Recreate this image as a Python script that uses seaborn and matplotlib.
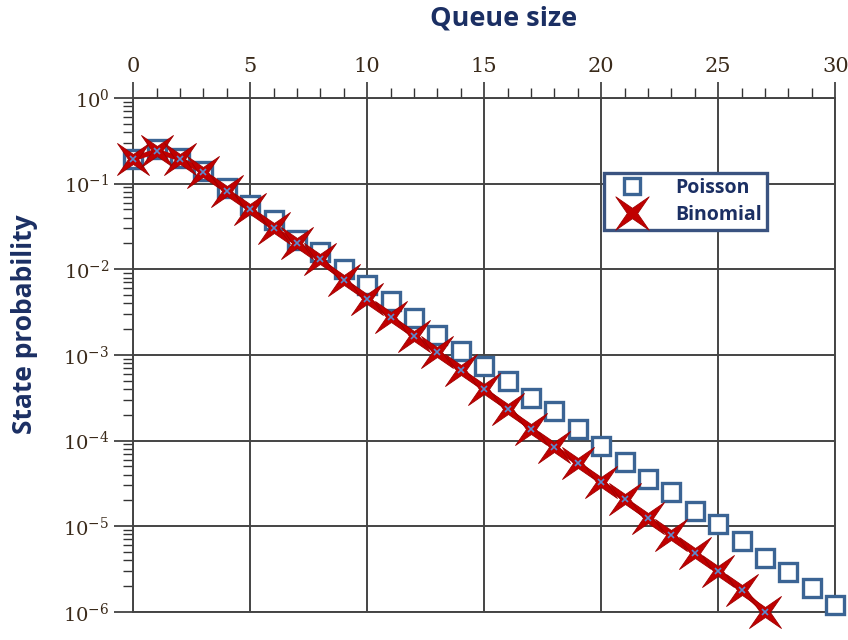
import numpy as np
import matplotlib
matplotlib.use("Agg")
import matplotlib.pyplot as plt
from matplotlib.path import Path
from matplotlib.lines import Line2D
from matplotlib.ticker import LogLocator, MultipleLocator, LogFormatterSciNotation
import seaborn as sns

# values
queue_size = list(range(31))
poisson = [0.194, 0.252, 0.20, 0.141, 0.088, 0.056, 0.0376, 0.022, 0.0158, 0.010,
           0.0065, 0.0043, 0.0027, 0.0017, 0.00112, 0.00075, 0.00049, 0.00031,
           0.00022, 0.000137, 8.7e-5, 5.6e-5, 3.6e-5, 2.5e-5, 1.5e-5, 1.07e-5,
           6.7e-6, 4.3e-6, 2.9e-6, 1.9e-6, 1.2e-6]
binomial_x = list(range(28))
binomial = [0.194, 0.24, 0.194, 0.137, 0.081, 0.050, 0.030, 0.020, 0.013, 0.0075,
            0.0045, 0.0028, 0.00165, 0.00108, 0.00066, 0.0004, 0.000234, 0.000137,
            8.3e-5, 5.5e-5, 3.3e-5, 2.05e-5, 1.23e-5, 7.9e-6, 4.8e-6, 3.0e-6,
            1.8e-6, 1.0e-6]

navy = "#1B2F63"
sq_color = "#3B6494"
red = "#C00000"


def star_marker(inner=0.22):
    # four pointed star with its points on the diagonals
    verts = []
    for k in range(8):
        ang = np.pi / 4 + k * np.pi / 4
        r = 1.0 if k % 2 == 0 else inner
        verts.append((r * np.cos(ang), r * np.sin(ang)))
    verts.append(verts[0])
    codes = [Path.MOVETO] + [Path.LINETO] * 7 + [Path.CLOSEPOLY]
    return Path(verts, codes)


star = star_marker()

sns.set_style("white")
plt.rcParams["font.family"] = ["DejaVu Serif"]
plt.rcParams["mathtext.fontset"] = "dejavuserif"

fig = plt.figure(figsize=(8.48, 6.4), dpi=100)
ax = fig.add_axes([0.157, 0.044, 0.828, 0.803])

sns.lineplot(x=queue_size, y=poisson, ax=ax, linestyle="", marker="s",
             markersize=12.5, markerfacecolor="white", markeredgecolor=sq_color,
             markeredgewidth=2.4, errorbar=None, zorder=3, clip_on=False)
sns.lineplot(x=binomial_x, y=binomial, ax=ax, color=red, linewidth=3.5,
             marker=star, markersize=23, markerfacecolor=red,
             markeredgecolor="#A00000", markeredgewidth=0.6,
             errorbar=None, zorder=4, clip_on=False)
sns.lineplot(x=binomial_x, y=binomial, ax=ax, linestyle="", marker="x",
             markersize=4, markeredgecolor="#5B8BD0", markeredgewidth=1.2,
             errorbar=None, zorder=5, clip_on=False)

ax.set_yscale("log")
ax.set_xlim(0, 30)
ax.set_ylim(1e-6, 1)

ax.xaxis.tick_top()
ax.xaxis.set_label_position("top")
ax.xaxis.set_major_locator(MultipleLocator(5))
ax.xaxis.set_minor_locator(MultipleLocator(1))
ax.yaxis.set_major_locator(LogLocator(base=10, numticks=10))
ax.yaxis.set_minor_locator(LogLocator(base=10, subs=np.arange(2, 10), numticks=20))
ax.yaxis.set_major_formatter(LogFormatterSciNotation())

ax.tick_params(axis="x", which="major", direction="out", length=11.5, width=1.2,
               labelsize=15, colors="#333333", pad=4, top=True, bottom=False)
ax.tick_params(axis="x", which="minor", direction="out", length=7, width=1.0,
               top=True, bottom=False, colors="#333333")
ax.tick_params(axis="y", which="major", direction="out", length=14, width=1.2,
               labelsize=14, colors="#333333", pad=3, left=True)
ax.tick_params(axis="y", which="minor", direction="out", length=7, width=1.0,
               colors="#333333", left=True)
ax.tick_params(labelcolor="#3a2a1a")

ax.grid(True, which="major", color="#444444", linewidth=1.4)
for side in ax.spines.values():
    side.set_color("#444444")
    side.set_linewidth(1.4)

ax.set_xlabel("Queue size", fontsize=19.5, fontweight="bold", color=navy,
              family=["Open Sans", "DejaVu Sans"])
ax.set_ylabel("State probability", fontsize=19, fontweight="bold", color=navy,
              family=["Open Sans", "DejaVu Sans"])
ax.xaxis.set_label_coords(0.527, 1.14)
ax.yaxis.set_label_coords(-0.135, 0.56)

handles = [
    Line2D([], [], linestyle="", marker="s", markersize=12, markerfacecolor="white",
           markeredgecolor=sq_color, markeredgewidth=2.4),
    Line2D([], [], linestyle="", marker=star, markersize=24, markerfacecolor=red,
           markeredgecolor="#A00000", markeredgewidth=0.6),
]
leg = ax.legend(handles, ["Poisson", "Binomial"], loc="upper left",
                bbox_to_anchor=(0.657, 0.872), frameon=True, fancybox=False,
                prop={"family": ["Open Sans", "DejaVu Sans"], "weight": "bold", "size": 14},
                labelcolor=navy, handletextpad=1.0, borderpad=0.25,
                labelspacing=0.35, handlelength=2.4)
leg.get_frame().set_edgecolor("#3A5380")
leg.get_frame().set_linewidth(2.4)
leg.get_frame().set_alpha(1)
leg.set_zorder(10)

fig.savefig("out.png", dpi=100)
